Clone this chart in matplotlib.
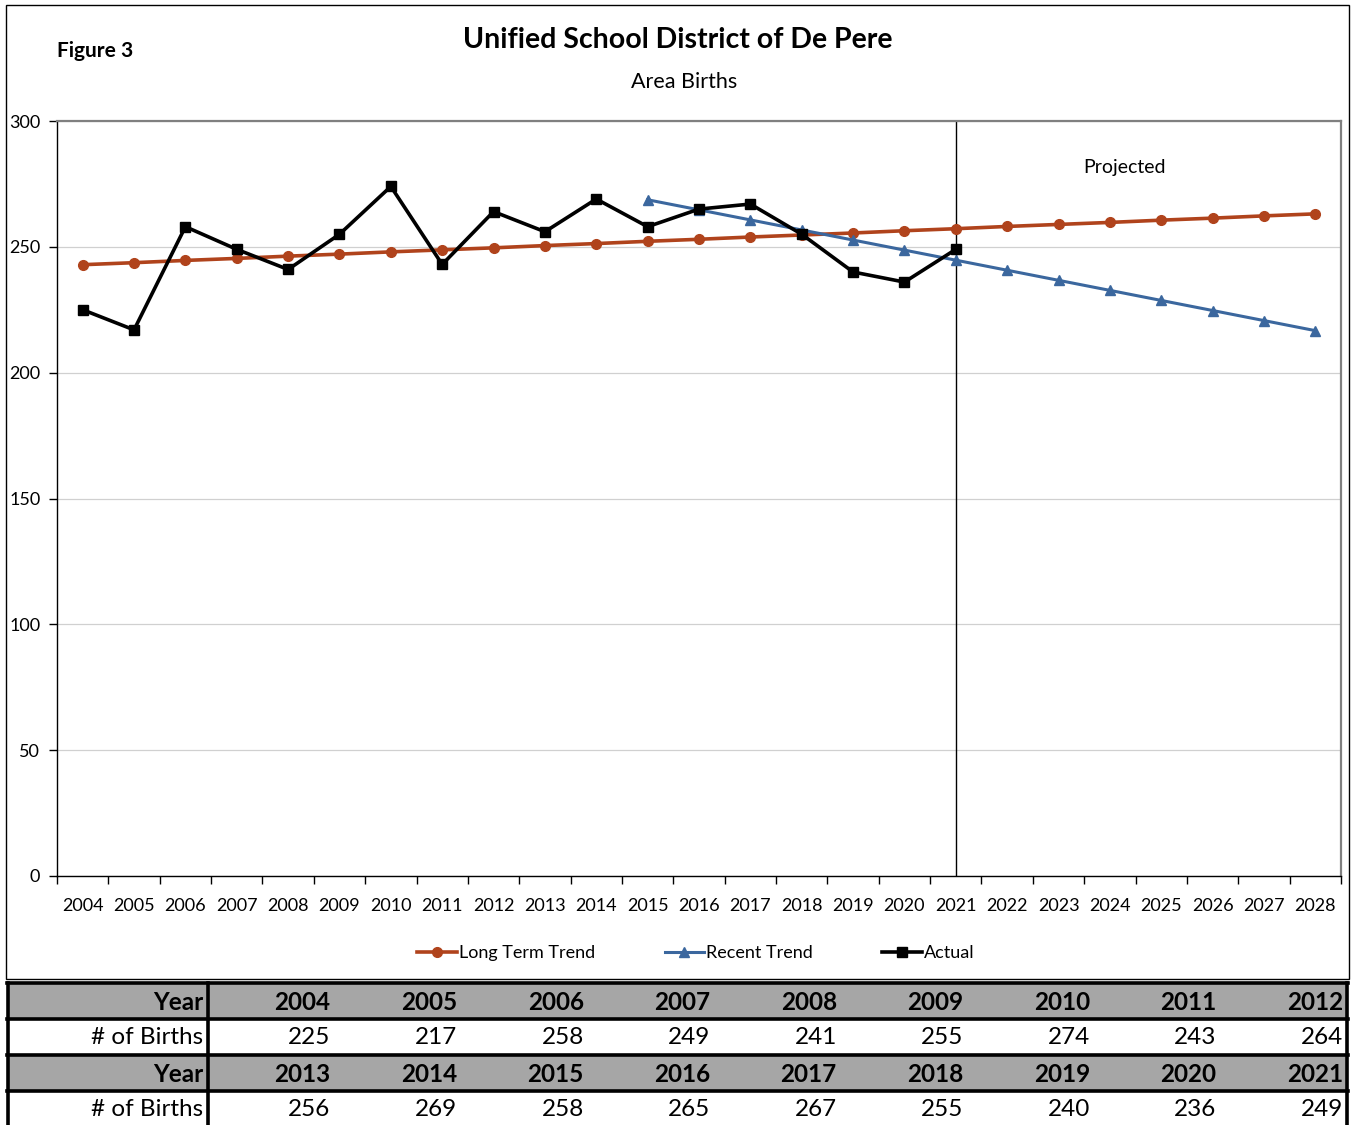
import matplotlib.pyplot as plt
from matplotlib.patches import Rectangle
from matplotlib.lines import Line2D

plt.rcParams['font.family'] = ['Lato', 'DejaVu Sans']

YEARS = [str(y) for y in range(2004, 2029)]

ACTUAL_YEARS = YEARS[:18]
ACTUAL = [225, 217, 258, 249, 241, 255, 274, 243, 264,
          256, 269, 258, 265, 267, 255, 240, 236, 249]

LONG_TERM = [242.9, 243.7, 244.6, 245.4, 246.3, 247.1, 248.0, 248.8, 249.6,
             250.5, 251.3, 252.2, 253.0, 253.9, 254.7, 255.5, 256.4, 257.2,
             258.1, 258.9, 259.7, 260.6, 261.4, 262.3, 263.1]

RECENT_YEARS = YEARS[11:]
RECENT = [268.7, 264.7, 260.7, 256.7, 252.7, 248.7, 244.7, 240.7,
          236.7, 232.7, 228.7, 224.7, 220.7, 216.7]

ORANGE = '#B0431C'
BLUE = '#3B679E'

W, H = 1352, 1125
fig = plt.figure(figsize=(W / 100, H / 100), dpi=100)


def fx(px):
    return px / W


def fy(py):
    return 1 - py / H


# outer chart border
fig.patches.append(Rectangle((fx(6), fy(979)), fx(1343), 974 / H,
                             transform=fig.transFigure, fill=False,
                             edgecolor='black', linewidth=1))

ax = fig.add_axes([fx(57), fy(876), fx(1284), 755 / H])
idx = {y: i for i, y in enumerate(YEARS)}

ax.plot([idx[y] for y in YEARS], LONG_TERM, color=ORANGE, lw=2.6,
        marker='o', ms=7, zorder=3)
ax.plot([idx[y] for y in RECENT_YEARS], RECENT, color=BLUE, lw=2.2,
        marker='^', ms=7, zorder=3)
ax.plot([idx[y] for y in ACTUAL_YEARS], ACTUAL, color='black', lw=2.6,
        marker='s', ms=7, zorder=4)

ax.axvline(idx['2021'], color='black', lw=1, zorder=2)
ax.text(0.831, 0.938, 'Projected', transform=ax.transAxes,
        ha='center', va='center', fontsize=14)

ax.set_xlim(-0.5, len(YEARS) - 0.5)
ax.set_ylim(0, 300)
ax.set_yticks(range(0, 301, 50))
ax.yaxis.grid(True, color='#D0D0D0', lw=0.9)
ax.set_axisbelow(True)
ax.tick_params(axis='y', direction='out', length=6, width=1, labelsize=13,
               pad=6)

ax.set_xticks(range(len(YEARS)))
ax.set_xticklabels(YEARS)
ax.set_xticks([i - 0.5 for i in range(len(YEARS) + 1)], minor=True)
ax.tick_params(axis='x', which='major', length=0, labelsize=13, pad=16)
ax.tick_params(axis='x', which='minor', direction='out', length=6, width=1)

for side in ('top', 'right'):
    ax.spines[side].set_color('#808080')
    ax.spines[side].set_linewidth(1.6)
for side in ('left', 'bottom'):
    ax.spines[side].set_color('black')
    ax.spines[side].set_linewidth(1)

fig.text(fx(678), fy(40), 'Unified School District of De Pere',
         ha='center', va='center', fontsize=20.5, fontweight='bold')
fig.text(fx(684), fy(82), 'Area Births', ha='center', va='center',
         fontsize=15.5)
fig.text(fx(57), fy(51), 'Figure 3', ha='left', va='center', fontsize=15,
         fontweight='bold')

handles = [
    Line2D([], [], color=ORANGE, lw=2.6, marker='o', ms=7),
    Line2D([], [], color=BLUE, lw=2.2, marker='^', ms=7),
    Line2D([], [], color='black', lw=2.6, marker='s', ms=7),
]
fig.legend(handles, ['Long Term Trend', 'Recent Trend', 'Actual'],
           loc='center', bbox_to_anchor=(fx(696), fy(953)), ncol=3,
           frameon=False, fontsize=13, handlelength=2.2, handletextpad=0.1,
           columnspacing=3.85)

# data table below the chart
row_tops = [983, 1019, 1055, 1091]
row_h = 36
col_w = (1347 - 208) / 9
grey = '#A6A6A6'
for r, top in enumerate(row_tops):
    shade = grey if r % 2 == 0 else 'white'
    fig.patches.append(Rectangle((fx(8), fy(top + row_h)), fx(1339),
                                 row_h / H, transform=fig.transFigure,
                                 facecolor=shade, edgecolor='none'))
    half = r // 2
    cy = fy(top + row_h / 2 + 1)
    if r % 2 == 0:
        fig.text(fx(203), cy, 'Year', ha='right', va='center',
                 fontsize=17.5, fontweight='bold')
        for c, y in enumerate(ACTUAL_YEARS[half * 9:half * 9 + 9]):
            fig.text(fx(208 + (c + 1) * col_w - 4), cy, y, ha='right',
                     va='center', fontsize=17.5, fontweight='bold')
    else:
        fig.text(fx(203), cy, '# of Births', ha='right', va='center',
                 fontsize=17.5)
        for c, v in enumerate(ACTUAL[half * 9:half * 9 + 9]):
            fig.text(fx(208 + (c + 1) * col_w - 4), cy, str(v), ha='right',
                     va='center', fontsize=17.5)

for yy in [983, 1019, 1055, 1091]:
    fig.add_artist(Line2D([fx(7), fx(1348)], [fy(yy), fy(yy)],
                          color='black', lw=2.6))
for xx in [8, 208, 1347]:
    fig.add_artist(Line2D([fx(xx), fx(xx)], [fy(983), fy(1125)],
                          color='black', lw=2.6))

fig.savefig('out.png', dpi=100)
